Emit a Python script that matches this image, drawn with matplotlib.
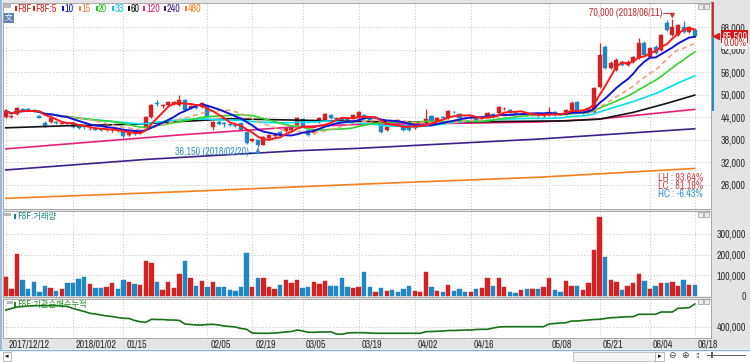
import numpy as np
import pandas as pd
import matplotlib
matplotlib.use('Agg')
import matplotlib.pyplot as plt
import matplotlib.transforms as mtrans
from matplotlib.patches import Rectangle
from matplotlib.ticker import FuncFormatter
from matplotlib import font_manager
from matplotlib.font_manager import FontProperties

# ---- data ----
holidays = ['2017-12-25', '2017-12-29', '2018-01-01', '2018-02-15', '2018-02-16',
            '2018-03-01', '2018-05-01', '2018-05-07', '2018-05-22', '2018-06-06', '2018-06-13']

opens = [44000, 44000, 44900, 46200, 46100, 45900, 44300, 42500, 42650, 42700,
         42300, 42500, 42500, 41800, 41600, 40800, 40900, 40800, 40500, 40500,
         40700, 40100, 39200, 40500, 39800, 41500, 44100, 47700, 47000, 47300,
         47500, 47300, 48500, 46400, 46800, 46700, 47000, 41400, 42700, 42400,
         42200, 42000, 42400, 40100, 37800, 38000, 36700, 38500, 39100, 40100,
         40300, 40600, 41900, 43500, 40600, 39800, 42700, 43300, 44600, 43700,
         43800, 43600, 43800, 43800, 44600, 43800, 42600, 41900, 40600, 42800,
         42500, 41900, 41900, 41200, 42700, 43000, 44300, 43000, 44000, 43800,
         45500, 44900, 43800, 43800, 44100, 43800, 44100, 44900, 45100, 46200,
         45900, 45100, 44800, 44700, 44500, 44900, 44300, 44600, 45400, 44800,
         44900, 45900, 48000, 45100, 45400, 45400, 52000, 62700, 57100, 56600,
         58700, 57900, 58700, 59800, 63700, 60000, 62700, 61900, 69000, 65900,
         65900, 68000, 66700, 67200]
highs = [46200, 44600, 46800, 46600, 46500, 46300, 44700, 42900, 43900, 43000,
         42800, 42800, 42700, 42000, 41800, 41300, 41200, 41000, 40900, 40800,
         40900, 40300, 40000, 40700, 40400, 44300, 47600, 48600, 47600, 48300,
         48400, 49900, 48800, 47200, 47100, 48000, 47300, 42900, 43200, 42700,
         42500, 42300, 42600, 40300, 38400, 38300, 38900, 39500, 39600, 40300,
         41300, 41600, 44100, 43800, 40900, 40800, 44000, 45200, 44900, 44000,
         44100, 43900, 44800, 45600, 44900, 44100, 43000, 42100, 41600, 43000,
         42700, 42100, 42100, 42100, 43000, 46200, 44600, 44000, 44300, 46000,
         45800, 45100, 44000, 44300, 44300, 44100, 45300, 45100, 46900, 46700,
         46100, 45300, 45100, 44900, 44800, 45100, 45000, 46700, 45600, 45000,
         46200, 48400, 48300, 45600, 46800, 52000, 63700, 63200, 58900, 59700,
         59000, 59200, 60300, 65000, 64200, 62700, 63300, 66200, 69800, 70000,
         68900, 69500, 68300, 67500]
lows = [43800, 43700, 44700, 45700, 45600, 45300, 43700, 41300, 42400, 42200,
        42100, 42100, 41100, 41000, 41000, 40600, 40500, 40400, 40300, 40200,
        40200, 38500, 38900, 39400, 39600, 41300, 43900, 47000, 46500, 47000,
        47200, 47000, 45800, 46100, 46300, 46500, 44000, 40600, 42000, 41500,
        41700, 41500, 40400, 37000, 37400, 36150, 36500, 38200, 38800, 39100,
        40100, 40400, 41700, 41300, 39100, 39600, 42500, 43100, 43600, 43300,
        43100, 43100, 43600, 43600, 43600, 43100, 42400, 39900, 40400, 42400,
        42100, 40400, 40400, 41000, 42500, 42800, 42600, 42800, 43600, 43600,
        45100, 43600, 43500, 43600, 43100, 43600, 43900, 43900, 44900, 45900,
        44900, 44800, 44600, 44400, 44300, 44200, 44100, 44400, 44400, 44500,
        44700, 45700, 45200, 44900, 45200, 45200, 51800, 56900, 56800, 56300,
        57600, 57600, 58400, 59500, 60200, 59700, 60800, 61600, 67000, 65600,
        65600, 66400, 66400, 65300]
closes = [45700, 44300, 46500, 46000, 45900, 45700, 43900, 41500, 43700, 42400,
          42500, 42300, 41300, 41200, 41300, 41000, 40700, 40600, 40700, 40600,
          40400, 39000, 39700, 39600, 40200, 44100, 47300, 47500, 47200, 48000,
          48100, 48700, 46000, 46900, 46600, 47700, 44200, 42700, 42200, 42200,
          42000, 41800, 40600, 37200, 38100, 36600, 38700, 39300, 39400, 39300,
          41100, 41400, 43800, 41500, 39300, 40600, 43800, 44900, 43800, 43500,
          43300, 43400, 44600, 45400, 43800, 43300, 42800, 40100, 41400, 42600,
          42300, 40600, 40600, 41900, 42800, 43500, 42800, 43800, 43800, 45700,
          45400, 43800, 43700, 44100, 43300, 43900, 45100, 44100, 46700, 46300,
          45100, 45000, 44900, 44600, 44600, 44400, 44800, 45400, 44600, 44700,
          45900, 47800, 45400, 45400, 46500, 51800, 60500, 57100, 58400, 59200,
          57900, 58700, 60000, 63700, 60500, 62400, 61100, 65900, 67200, 68000,
          68500, 66700, 68000, 65500]
volumes = [93000, 34000, 201000, 77000, 32000, 66000, 18000, 50000, 37000, 26000,
           34000, 61000, 64000, 82000, 90000, 56000, 37000, 40000, 42000, 61000,
           34000, 76000, 66000, 56000, 52000, 169000, 158000, 66000, 29000, 66000,
           37000, 105000, 171000, 88000, 50000, 72000, 42000, 70000, 42000, 42000,
           29000, 25000, 42000, 206000, 42000, 86000, 86000, 43000, 33000, 53000,
           77000, 64000, 77000, 37000, 45000, 69000, 58000, 72000, 48000, 48000,
           88000, 42000, 37000, 45000, 114000, 45000, 21000, 37000, 26000, 29000,
           18000, 33000, 48000, 26000, 21000, 118000, 42000, 26000, 21000, 53000,
           26000, 32000, 18000, 21000, 32000, 37000, 88000, 48000, 88000, 42000,
           21000, 13000, 29000, 34000, 34000, 34000, 42000, 88000, 29000, 18000,
           74000, 48000, 48000, 29000, 64000, 222000, 380000, 187000, 77000, 69000,
           29000, 50000, 61000, 105000, 74000, 34000, 50000, 64000, 64000, 69000,
           50000, 77000, 53000, 53000]
net_buy = [740000, 770000, 800000, 810000, 820000, 826000, 826000, 826000, 826000, 826000,
           820000, 810000, 770000, 740000, 710000, 674000, 660000, 640000, 620000, 610000,
           590000, 574000, 570000, 530000, 506000, 494000, 554000, 550000, 550000, 540000,
           540000, 530000, 460000, 450000, 440000, 440000, 450000, 454000, 440000, 420000,
           410000, 400000, 370000, 354000, 280000, 274000, 274000, 274000, 280000, 290000,
           300000, 310000, 340000, 320000, 294000, 294000, 300000, 300000, 306000, 260000,
           254000, 280000, 286000, 286000, 286000, 280000, 274000, 274000, 274000, 274000,
           274000, 274000, 274000, 274000, 274000, 306000, 310000, 314000, 320000, 330000,
           330000, 334000, 340000, 340000, 350000, 354000, 354000, 380000, 400000, 406000,
           406000, 406000, 406000, 406000, 406000, 406000, 406000, 460000, 470000, 480000,
           486000, 520000, 520000, 530000, 540000, 550000, 554000, 570000, 586000, 590000,
           600000, 606000, 606000, 654000, 654000, 654000, 654000, 700000, 700000, 700000,
           774000, 780000, 786000, 860000]

# long moving averages need history before the window
ma60_pts = {'2017-12-12': 41200, '2017-12-28': 41750, '2018-01-17': 42150, '2018-01-29': 42850,
            '2018-02-09': 43600, '2018-02-27': 43300, '2018-03-14': 43000, '2018-03-28': 42750,
            '2018-04-11': 42750, '2018-04-24': 42900, '2018-05-11': 43050, '2018-05-21': 43500,
            '2018-05-30': 45300, '2018-06-08': 47700, '2018-06-18': 49900}
ma120_pts = {'2017-12-12': 35600, '2018-01-29': 39300, '2018-03-02': 41500, '2018-03-19': 42100,
             '2018-04-16': 42450, '2018-05-03': 42750, '2018-05-21': 43550, '2018-06-18': 46100}
ma240_pts = {'2017-12-12': 30000, '2018-01-19': 32800, '2018-03-02': 35100, '2018-03-19': 35750,
             '2018-05-03': 38200, '2018-06-18': 40950}
ma480_pts = {'2017-12-12': 22450, '2018-01-29': 24200, '2018-03-19': 26200, '2018-05-03': 28050,
             '2018-06-18': 30400}

tick_dates = ['2017-12-12', '2018-01-02', '2018-01-15', '2018-02-05', '2018-02-19', '2018-03-05',
              '2018-03-19', '2018-04-02', '2018-04-16', '2018-05-08', '2018-05-21', '2018-06-04',
              '2018-06-18']
tick_labels = ['2017/12/12', '2018/01/02', '01/15', '02/05', '02/19', '03/05', '03/19',
               '04/02', '04/16', '05/08', '05/21', '06/04', '06/18']
price_ticks = [26000, 32000, 38000, 44000, 50000, 56000, 62000, 68000]
vol_ticks = [0, 100000, 200000, 300000]
net_ticks = [400000]
change_pct = 0.00

W, H = 750, 362
fig = plt.figure(figsize=(7.5, 3.62), dpi=100, facecolor='#e4e4e4')


# ---- fonts: the chart uses a narrow bitmap-like face ----
def pick_narrow():
    ents = font_manager.fontManager.ttflist

    def ok(f):
        return f.style == 'normal' and f.weight in (400, 'normal', 'regular', 'book')
    prefs = [lambda f: f.name == 'Liberation Sans Narrow',
             lambda f: 'Narrow' in f.name,
             lambda f: f.name == 'Roboto Condensed',
             lambda f: 'Condensed' in f.name,
             lambda f: str(f.stretch) in ('condensed', 'semi-condensed')]
    for p in prefs:
        for f in ents:
            if ok(f) and p(f):
                return f.fname
    return None


path = pick_narrow()
base_fp = FontProperties(fname=path) if path else FontProperties(family='DejaVu Sans')
renderer = fig.canvas.get_renderer()
probe = fig.text(0, 0, '68,000', fontproperties=base_fp, fontsize=10)
probe_w = probe.get_window_extent(renderer).width
probe.remove()
FS = max(5.6, min(7.2, 10 * 25 / probe_w))
FP = base_fp.copy()
FP.set_size(FS)
KR = ['Noto Sans CJK KR', 'DejaVu Sans']

RED = '#d42222'
BLUE = '#1f87c4'

dates = pd.bdate_range('2017-12-12', '2018-06-18')
dates = dates[~dates.isin(pd.to_datetime(holidays))]
x = np.arange(len(dates))
o, h, l, c = (np.array(a, float) for a in (opens, highs, lows, closes))
up = c >= o
col = np.where(up, RED, BLUE)


def pos(d):
    return dates.get_loc(pd.Timestamp(d))


def box(x0, y0, x1, y1):
    return [x0 / W, 1 - y1 / H, (x1 - x0) / W, (y1 - y0) / H]


def ftext(px, py, s, **kw):
    kw.setdefault('va', 'center')
    if 'family' not in kw and 'fontsize' not in kw:
        kw['fontproperties'] = FP
    fig.text(px / W, 1 - py / H, s, **kw)


def frect(x0, y0, x1, y1, **kw):
    fig.add_artist(Rectangle((x0 / W, 1 - y1 / H), (x1 - x0) / W, (y1 - y0) / H,
                             transform=fig.transFigure, **kw))


ax = fig.add_axes(box(3, 3, 711, 209))
axv = fig.add_axes(box(3, 211, 711, 296.5), sharex=ax)
axn = fig.add_axes(box(3, 298.5, 711, 338), sharex=ax)

fmt = FuncFormatter(lambda v, p: f'{v:,.0f}')
for a in (ax, axv, axn):
    a.set_facecolor('white')
    for s in a.spines.values():
        s.set_color('#a8a8a8')
        s.set_linewidth(0.7)
    a.grid(True, color='#c4c4c4', ls=(0, (1, 2)), lw=0.7)
    a.set_axisbelow(True)
    a.yaxis.tick_right()
    a.yaxis.set_major_formatter(fmt)
    a.tick_params(axis='y', length=0, pad=25, labelcolor='#303030')
ax.set_xlim(-0.5, 125.9)

# ---- price panel ----
ax.vlines(x, l, h, colors=col, lw=0.9, zorder=2)
ax.bar(x, np.maximum(np.abs(c - o), 130), bottom=np.minimum(o, c), width=0.72,
       color=col, edgecolor=col, lw=0.3, zorder=2)

cs = pd.Series(c)
short_ma = [(33, '#00e1f5', '-'), (20, '#2fd42f', '-'), (15, '#f5a07c', (0, (3, 2))),
            (10, '#1414d8', '-'), (5, '#ff1a1a', '-')]
for pts, color in ((ma480_pts, '#f4801e'), (ma240_pts, '#3d2188'),
                   (ma120_pts, '#e8207c'), (ma60_pts, '#111111')):
    ax.plot([pos(d) for d in pts], list(pts.values()), color=color, lw=1.2, zorder=3)
for n, color, ls in short_ma:
    ax.plot(x, cs.rolling(n, min_periods=1).mean(), color=color, lw=1.4 if n in (5, 10) else 1.2,
            ls=ls, zorder=4)

ax.set_ylim(19620, 74380)
ax.set_yticks(price_ticks)
ax.tick_params(axis='x', length=0, labelbottom=False)

hi_i, lo_i = int(np.argmax(h)), int(np.argmin(l))
hi, lo, last = h[hi_i], l[lo_i], c[-1]
ax.text(hi_i - 1.7, hi + 1600, f'{hi:,.0f} ({dates[hi_i]:%Y/%m/%d})', color='#c83232',
        fontproperties=FP, ha='right', va='center', zorder=6)
ax.plot([hi_i - 1.6, hi_i], [hi + 1600, hi + 1600], color='#c83232', lw=0.7, zorder=6)
ax.annotate('', xy=(hi_i, hi + 250), xytext=(hi_i, hi + 1650),
            arrowprops=dict(arrowstyle='-|>,head_length=0.3,head_width=0.15', color='#c83232', lw=0.7))
ax.text(lo_i - 1.6, lo - 1250, f'{lo:,.0f} ({dates[lo_i]:%Y/%m/%d})', color='#3a8ec8',
        fontproperties=FP, ha='right', va='center', zorder=6)
ax.plot([lo_i - 1.5, lo_i], [lo - 1250, lo - 1250], color='#3a8ec8', lw=0.7, zorder=6)
ax.annotate('', xy=(lo_i, lo - 250), xytext=(lo_i, lo - 1300),
            arrowprops=dict(arrowstyle='-|>,head_length=0.3,head_width=0.15', color='#3a8ec8', lw=0.7))

stats = [('LH', hi / lo - 1, '#d04040'), ('LC', last / lo - 1, '#d04040'), ('HC', last / hi - 1, '#2f8fd0')]
for k, (name, v, color) in enumerate(stats):
    ax.text(0.9887, 0.1505 - k * 0.0388, f'{name} : {v * 100:.2f}%', transform=ax.transAxes,
            ha='right', va='center', fontproperties=FP, color=color, zorder=6)

# right margin: range bar, last price box
bt = mtrans.blended_transform_factory(ax.transAxes, ax.transData)
ax.plot([1.0014, 1.0014], [74380, last + 300], color='#d42222', lw=2, transform=bt, clip_on=False)
ax.plot([1.0014, 1.0014], [last - 300, ma120_pts['2018-06-18']], color='#1f87c4', lw=2,
        transform=bt, clip_on=False)
ax.plot([1.0065], [last], marker='<', ms=4, color='#d42222', transform=bt, clip_on=False)
ax.text(1.0335, last, f'{last:,.0f}', transform=bt, ha='center', va='center', fontproperties=FP,
        color='white', zorder=7, bbox=dict(boxstyle='square,pad=0.12', fc='#d01818', ec='none'))
down = mtrans.ScaledTranslation(0, -7 / 100, fig.dpi_scale_trans)
ax.text(1.0335, last, f'{change_pct:.2f}%', transform=bt + down, ha='center', va='center',
        fontproperties=FP, color='#d02020', zorder=7,
        bbox=dict(boxstyle='square,pad=0.08', fc='white', ec='none'))

# ---- volume panel ----
axv.bar(x, volumes, width=0.78, color=col, edgecolor=col, lw=0.3, zorder=2)
axv.set_ylim(-2400, 410600)
axv.set_yticks(vol_ticks)
axv.tick_params(axis='x', length=0, labelbottom=False)

# ---- cumulative net buying panel ----
axn.plot(x, net_buy, color='#187018', lw=1.2, zorder=3)
axn.set_ylim(180000, 970000)
axn.set_yticks(net_ticks)
axn.set_xticks([pos(d) for d in tick_dates])
axn.set_xticklabels(tick_labels)
axn.tick_params(axis='x', length=0, pad=1.0, labelcolor='#303030')
shift = mtrans.ScaledTranslation(3 / 100, 0, fig.dpi_scale_trans)
for lbl in axn.get_xticklabels():
    lbl.set_ha('left')
    lbl.set_fontproperties(FP)
    lbl.set_transform(lbl.get_transform() + shift)
for a in (ax, axv, axn):
    for lbl in a.get_yticklabels():
        lbl.set_ha('right')
        lbl.set_fontproperties(FP)

# ---- panel headers ----
legend = [('F8F', '#d02020', 15, 17), ('F8F:5', '#d02020', 33, 35), ('10', '#1414d8', 62, 65),
          ('15', '#f08050', 79, 82), ('20', '#22c822', 96, 98), ('33', '#00cde8', 112, 115),
          ('60', '#111111', 128, 131), ('120', '#e0207a', 143, 147), ('240', '#3d2188', 164, 167),
          ('480', '#f08020', 185, 188)]
frect(4, 4, 11, 7.5, fc='#b8b8b8', ec='none')
for s, color, mx, tx in legend:
    frect(mx, 6, mx + 2, 11, fc=color, ec='none')
    ftext(tx, 8.5, s, color=color)
frect(4, 13, 13.5, 22.5, fc='#5f83b3', ec='none')
ftext(8.75, 17.8, '文', color='white', fontsize=5.5, ha='center', family=['Noto Sans CJK SC'])

frect(4, 213, 11, 216, fc='#b8b8b8', ec='none')
frect(14, 213.5, 15.5, 218.5, fc='#1e8080', ec='none')
ftext(17, 216, 'F8F:거래량', color='#1e8080', fontsize=6, family=KR)
frect(7, 301, 13, 303.5, fc='#b8b8b8', ec='none')
frect(14, 301.5, 15.5, 306.5, fc='#2a8a2a', ec='none')
ftext(17, 304, 'F8F:기관순매수누적', color='#2a8a2a', fontsize=6, family=KR)

for yy in (4, 212, 298.5):
    for xx in (697.5, 704):
        frect(xx, yy, xx + 5, yy + 5, fc='#ececec', ec='#9a9a9a', lw=0.5)

# ---- frame / scroll bar ----
frect(0, 349, W, H, fc='white', ec='none')
fig.add_artist(plt.Line2D([0, 1], [1 - 349.5 / H] * 2, color='#8fb0dc', lw=1, transform=fig.transFigure))
fig.add_artist(plt.Line2D([1 / W] * 2, [1 - 349 / H, 1], color='#8fb0dc', lw=1.2, transform=fig.transFigure))
frect(3, 351.5, 11, 361, fc='white', ec='#a0a0a0', lw=0.5)
ftext(7, 356, '◂', fontsize=5, ha='center', family=['DejaVu Sans'])
frect(573, 351.5, 655, 361, fc='#f4f4f4', ec='#b0b0b0', lw=0.5)
frect(655, 351.5, 664, 361, fc='white', ec='#a0a0a0', lw=0.5)
ftext(659.5, 356, '▸', fontsize=5, ha='center', family=['DejaVu Sans'])
ftext(672, 356, '⊖', fontsize=6.5, ha='center', family=['DejaVu Sans'], color='#404040')
ftext(685, 356, '⊕', fontsize=6.5, ha='center', family=['DejaVu Sans'], color='#404040')
ftext(697, 356, '⁞⁞', fontsize=5, ha='center', family=['DejaVu Sans'], color='#404040')
fig.add_artist(plt.Line2D([707 / W, 745 / W], [1 - 355 / H] * 2, color='#606060', lw=0.7,
                          transform=fig.transFigure))
frect(711, 352, 713, 358, fc='#606060', ec='none')

fig.savefig('out.png', dpi=100, facecolor=fig.get_facecolor())
